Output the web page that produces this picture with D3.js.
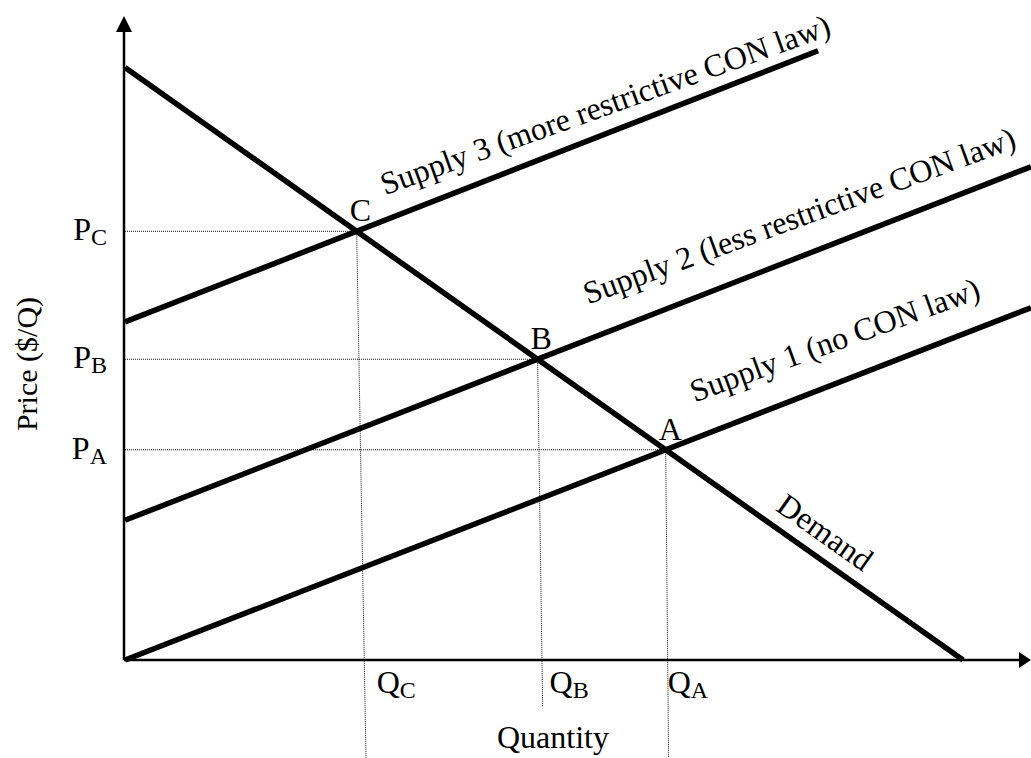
<!DOCTYPE html>
<html>
<head>
<meta charset="utf-8">
<script src="https://cdn.jsdelivr.net/npm/d3@7"></script>
<style>
  body { margin: 0; background: #fff; }
  svg text { font-family: "Times New Roman", "Liberation Serif", serif; fill: #000; }
</style>
</head>
<body>
<svg id="chart" width="1031" height="758"></svg>
<script>
// quantity and price in abstract units (0-100 on each axis)
var demandQ = [0, 92.5];
var demandP = [92, 0];

var supplyNames = ["Supply 1 (no CON law)", "Supply 2 (less restrictive CON law)", "Supply 3 (more restrictive CON law)"];
var supplyQ = [[0, 100], [0, 100], [0, 76.5]];
var supplyP = [[0, 54.7], [21.7, 76.6], [52.5, 94.6]];

var eqLetters = ["A", "B", "C"];
// the dotted drop lines run a bit past the quantity axis
var dropQ = [60.0, 46.1, 26.6];
var dropP = [-15.2, -7.3, -15.2];

const svg = d3.select('#chart');
var fs = 32, subFs = 24;

var x = d3.scaleLinear().domain([0, 100]).range([125, 1031]);
var y = d3.scaleLinear().domain([0, 100]).range([660, 16]);

function lineOf(qs, ps) {
    var m = (ps[1] - ps[0]) / (qs[1] - qs[0]);
    return {m: m, b: ps[0] - m * qs[0]};
}

var dLine = lineOf(demandQ, demandP);

var equilibria = supplyQ.map(function(qs, i) {
    var s = lineOf(qs, supplyP[i]);
    var q = (dLine.b - s.b) / (s.m - dLine.m);
    return {letter: eqLetters[i], q: q, p: s.m * q + s.b, dropQ: dropQ[i], dropP: dropP[i]};
});

// dotted guides first so the thick lines sit on top
var guides = svg.append("g").attr("class", "guides");

guides.selectAll(".hguide")
    .data(equilibria)
    .enter().append("line")
    .attr("class", "hguide")
    .attr("x1", x(0))
    .attr("x2", function(d) { return x(d.q); })
    .attr("y1", function(d) { return y(d.p); })
    .attr("y2", function(d) { return y(d.p); });

guides.selectAll(".vguide")
    .data(equilibria)
    .enter().append("line")
    .attr("class", "vguide")
    .attr("x1", function(d) { return x(d.q); })
    .attr("y1", function(d) { return y(d.p); })
    .attr("x2", function(d) { return x(d.dropQ); })
    .attr("y2", function(d) { return y(d.dropP); });

guides.selectAll("line")
    .attr("stroke", "#111")
    .attr("stroke-width", 1)
    .attr("stroke-dasharray", "1,1");

// axes with arrow heads
var axes = svg.append("g").attr("class", "axes");
axes.append("line")
    .attr("x1", x(0) - 1).attr("y1", y(0))
    .attr("x2", x(0) - 1).attr("y2", y(100) + 14)
    .attr("stroke", "#000").attr("stroke-width", 2.5);
axes.append("line")
    .attr("x1", x(0) - 1).attr("y1", y(0))
    .attr("x2", x(100) - 8).attr("y2", y(0))
    .attr("stroke", "#000").attr("stroke-width", 2.5);
axes.append("path")
    .attr("d", "M" + (x(0) - 1) + "," + y(100) + "l-8,16h16z")
    .attr("fill", "#000");
axes.append("path")
    .attr("d", "M" + x(100) + "," + y(0) + "l-12,-8v16z")
    .attr("fill", "#000");

// demand + supply curves
var lineGen = d3.line()
    .x(function(d) { return x(d[0]); })
    .y(function(d) { return y(d[1]); });

var curves = [d3.zip(demandQ, demandP)].concat(supplyQ.map(function(qs, i) {
    return d3.zip(qs, supplyP[i]);
}));

svg.append("g")
    .selectAll("path")
    .data(curves)
    .enter().append("path")
    .attr("d", lineGen)
    .attr("fill", "none")
    .attr("stroke", "#000")
    .attr("stroke-width", 5.5);

// equilibrium letters
svg.append("g")
    .selectAll("text")
    .data(equilibria)
    .enter().append("text")
    .attr("x", function(d) { return x(d.q) - 7; })
    .attr("y", function(d) { return y(d.p) - 10; })
    .attr("font-size", fs)
    .text(function(d) { return d.letter; });

// P and Q labels with subscripts
var pLabels = svg.append("g")
    .selectAll("text")
    .data(equilibria)
    .enter().append("text")
    .attr("x", 107)
    .attr("y", function(d) { return y(d.p) + 9; })
    .attr("text-anchor", "end")
    .attr("font-size", fs);
pLabels.append("tspan").text("P");
pLabels.append("tspan").attr("font-size", subFs).attr("dy", 5).text(function(d) { return d.letter; });

var qShift = {A: 2, B: 12, C: 20};
var qLabels = svg.append("g")
    .selectAll("text")
    .data(equilibria)
    .enter().append("text")
    .attr("x", function(d) { return x(d.q) + qShift[d.letter]; })
    .attr("y", y(0) + 33)
    .attr("font-size", fs);
qLabels.append("tspan").text("Q");
qLabels.append("tspan").attr("font-size", subFs).attr("dy", 5).text(function(d) { return d.letter; });

// curve names written along the lines (supply text sits a touch flatter than its line)
function angleOf(qs, ps) {
    return Math.atan2(y(ps[1]) - y(ps[0]), x(qs[1]) - x(qs[0])) * 180 / Math.PI;
}
var curveLabels = [
    {text: "Demand", qs: demandQ, ps: demandP, at: 71.7, lift: 17, tilt: 0},
    {text: supplyNames[0], qs: supplyQ[0], ps: supplyP[0], at: 62.9, lift: 36, tilt: 1.2},
    {text: supplyNames[1], qs: supplyQ[1], ps: supplyP[1], at: 51.1, lift: 35, tilt: 1.2},
    {text: supplyNames[2], qs: supplyQ[2], ps: supplyP[2], at: 28.7, lift: 25, tilt: 1.6}
];

svg.append("g")
    .selectAll("text")
    .data(curveLabels)
    .enter().append("text")
    .attr("transform", function(d) {
        var l = lineOf(d.qs, d.ps);
        var px = x(d.at), py = y(l.m * d.at + l.b) - d.lift;
        return "translate(" + px + "," + py + ") rotate(" + (angleOf(d.qs, d.ps) + d.tilt) + ")";
    })
    .attr("font-size", fs)
    .text(function(d) { return d.text; });

// axis titles
svg.append("text")
    .attr("transform", "translate(37," + 364 + ") rotate(-90)")
    .attr("text-anchor", "middle")
    .attr("font-size", 30)
    .text("Price ($/Q)");

svg.append("text")
    .attr("x", 553)
    .attr("y", 748)
    .attr("text-anchor", "middle")
    .attr("font-size", fs)
    .text("Quantity");
</script>
</body>
</html>
